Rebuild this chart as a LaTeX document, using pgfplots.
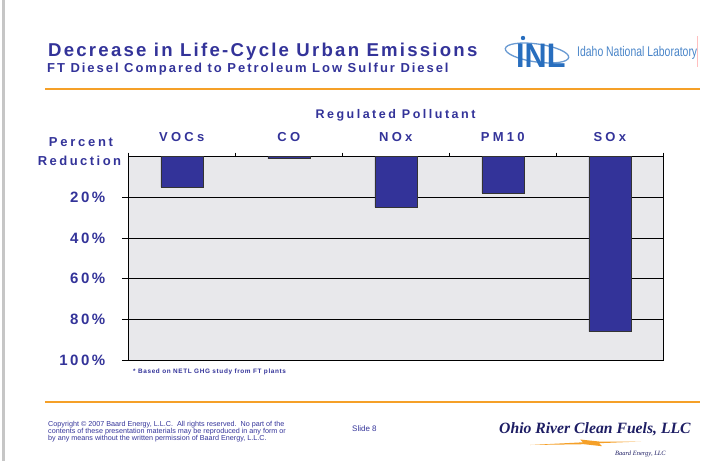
\documentclass[border=0pt]{standalone}
\usepackage{pgfplots}
\pgfplotsset{compat=1.18}
\usepackage{fontspec}
\usepackage{graphicx}
\setmainfont{Liberation Sans}
\newfontfamily\serifb{Liberation Serif}
\definecolor{navy}{RGB}{51,51,153}
\definecolor{orangeline}{RGB}{245,160,40}
\definecolor{marble}{RGB}{232,232,235}
\definecolor{inlblue}{RGB}{40,110,190}
\definecolor{ohio}{RGB}{30,30,100}
\begin{document}
\begin{tikzpicture}
\useasboundingbox (0,0) rectangle (712pt,-461pt);
% slide border
\fill[gray!45] (2pt,0) rectangle (4.5pt,-461pt);
% title
\node[anchor=base west, inner sep=0pt, text=navy] at (48pt,-56pt)
  {\fontsize{18.6}{20}\selectfont\bfseries\addfontfeatures{LetterSpace=12}Decrease in Life-Cycle Urban Emissions};
\node[anchor=base west, inner sep=0pt, text=navy] at (47pt,-72.7pt)
  {\fontsize{13}{14}\selectfont\bfseries\addfontfeatures{LetterSpace=15}FT Diesel Compared to Petroleum Low Sulfur Diesel};
% INL logo
\draw[inlblue!70, line width=1.3pt, rotate around={-8:(537pt,-53pt)}] (537pt,-53pt) ellipse [x radius=32pt, y radius=9pt];
\node[anchor=base west, inner sep=0pt, text=inlblue] at (516pt,-67pt)
  {\scalebox{0.9}[1]{\fontsize{34}{34}\selectfont\bfseries INL}};
\fill[inlblue] (523pt,-38pt) circle (2.2pt);
\node[anchor=west, inner sep=0pt, text=inlblue!85] at (577pt,-53pt)
  {\scalebox{0.745}[1]{\fontsize{14}{14}\selectfont Idaho National Laboratory}};
\draw[red!25, line width=0.6pt] (697.5pt,-36pt) -- (697.5pt,-67pt);
% orange rules
\draw[orangeline, line width=1.3pt] (45pt,-89pt) -- (700pt,-89pt);
\draw[orangeline, line width=1.3pt] (45pt,-402pt) -- (700pt,-402pt);
% axis header labels
\node[anchor=base, inner sep=0pt, text=navy] at (395.5pt,-118pt)
  {\fontsize{12.5}{13}\selectfont\bfseries\addfontfeatures{LetterSpace=20}Regulated Pollutant};
\node[anchor=base, inner sep=0pt, text=navy] at (81pt,-146.7pt)
  {\fontsize{13}{13}\selectfont\bfseries\addfontfeatures{LetterSpace=21}Percent};
\node[anchor=base, inner sep=0pt, text=navy] at (79.5pt,-165pt)
  {\fontsize{13}{13}\selectfont\bfseries\addfontfeatures{LetterSpace=19}Reduction};
\begin{axis}[
  at={(128.3pt,-360pt)}, anchor=south west,
  width=535pt, height=203.4pt, scale only axis,
  xmin=-0.5, xmax=4.5, ymin=0, ymax=100, y dir=reverse,
  ybar, bar width=42pt,
  axis background/.style={fill=marble},
  axis line style={black, line width=0.8pt},
  tick align=outside,
  xtick={0,1,2,3,4},
  xticklabels={VOCs,CO,NOx,PM10,SOx},
  xtick pos=upper, xticklabel pos=upper,
  major x tick style={draw=none},
  minor xtick={-0.5,0.5,1.5,2.5,3.5,4.5},
  minor x tick style={black, line width=0.8pt},
  minor tick length=4pt,
  major tick length=6.5pt,
  xticklabel style={text=navy, font=\fontsize{13}{13}\selectfont\bfseries\addfontfeatures{LetterSpace=25}, anchor=south, text depth=0pt, yshift=5.5pt},
  ytick={20,40,60,80,100},
  yticklabels={20\%,40\%,60\%,80\%,100\%},
  ytick pos=left,
  major y tick style={black, line width=0.8pt},
  yticklabel style={text=navy, font=\fontsize{15}{15}\selectfont\bfseries\addfontfeatures{LetterSpace=17}, anchor=east, xshift=-13pt},
  ymajorgrids, major grid style={black, line width=0.7pt},
  clip=false,
]
\addplot[fill=navy, draw=black!80, line width=0.6pt] coordinates {(0,15) (1,1) (2,25) (3,18) (4,86)};
\end{axis}
% footnote
\node[anchor=base west, inner sep=0pt, text=navy] at (133pt,-373pt)
  {\fontsize{6.4}{7}\selectfont\bfseries\addfontfeatures{LetterSpace=10}* Based on NETL GHG study from FT plants};
% footer
\node[anchor=north west, inner sep=0pt, text=navy, align=left, font=\fontsize{7.2}{7}\selectfont] at (48pt,-421pt)
  {Copyright \textcopyright{} 2007 Baard Energy, L.L.C.\ \ All rights reserved.\ \ No part of the\\
   contents of these presentation materials may be reproduced in any form or\\
   by any means without the written permission of Baard Energy, L.L.C.};
\node[anchor=base west, inner sep=0pt, text=navy] at (352pt,-431pt)
  {\fontsize{8}{8}\selectfont Slide 8};
\node[anchor=base west, inner sep=0pt, text=ohio] at (499pt,-433pt)
  {\serifb\fontsize{15.7}{16}\selectfont\bfseries\itshape Ohio River Clean Fuels, LLC};
\fill[orangeline] (530pt,-445pt) -- (583pt,-442.3pt) -- (580pt,-439.5pt) -- (599pt,-441.5pt) -- (641pt,-441.5pt)
  -- (599pt,-443.2pt) -- (602pt,-446.2pt) -- (584pt,-444.2pt) -- cycle;
\node[anchor=base west, inner sep=0pt, text=ohio] at (615pt,-455pt)
  {\serifb\fontsize{6.5}{6.5}\selectfont\itshape Baard Energy, LLC};
\end{tikzpicture}
\end{document}
